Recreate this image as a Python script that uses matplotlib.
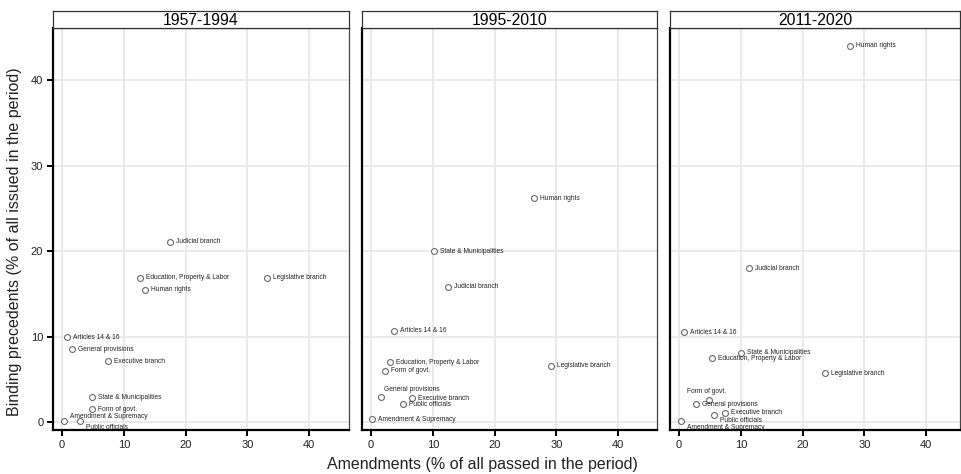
#!/usr/bin/env python3
# plot.py

import matplotlib
matplotlib.use('Agg')
import matplotlib.pyplot as plt
import numpy as np

# Subject areas of the constitution
categories = ['Amendment & Supremacy', 'Articles 14 & 16', 'Education, Property & Labor',
              'Executive branch', 'Form of govt.', 'General provisions', 'Human rights',
              'Judicial branch', 'Legislative branch', 'Public officials', 'State & Municipalities']
periods = ['1957-1994', '1995-2010', '2011-2020']

# Amendments (% of all passed in the period), one list per period
amend_1957 = [0.4, 0.8, 12.7, 7.4, 4.9, 1.6, 13.5, 17.5, 33.1, 2.9, 4.9]
amend_1995 = [0.1, 3.7, 3.1, 6.7, 2.3, 1.6, 26.3, 12.5, 29.2, 5.2, 10.25]
amend_2011 = [0.4, 0.8, 5.3, 7.4, 4.9, 2.8, 27.7, 11.4, 23.6, 5.7, 10.1]

# Binding precedents (% of all issued in the period)
prec_1957 = [0.1, 9.9, 16.9, 7.1, 1.5, 8.5, 15.5, 21.1, 16.9, 0.1, 2.9]
prec_1995 = [0.3, 10.7, 7.0, 2.8, 6.0, 2.9, 26.2, 15.8, 6.6, 2.1, 20.0]
prec_2011 = [0.1, 10.5, 7.45, 1.1, 2.6, 2.1, 44.0, 18.0, 5.7, 0.85, 8.1]

amend = [amend_1957, amend_1995, amend_2011]
prec = [prec_1957, prec_1995, prec_2011]

# label offsets in points (default: right of the marker)
label_pos = {
    (0, 'Amendment & Supremacy'): (3.8, 3.1, 'left'),
    (0, 'Public officials'): (4.3, -4.8, 'left'),
    (1, 'General provisions'): (2.2, 5.5, 'left'),
    (2, 'Form of govt.'): (-2.2, 5.8, 'center'),
    (2, 'Public officials'): (4.3, -4.5, 'left'),
    (2, 'Amendment & Supremacy'): (3.9, -4.6, 'left'),
}

W, H = 961, 474
fig = plt.figure(figsize=(W / 100, H / 100), dpi=100)

narrow = ['Liberation Sans Narrow', 'Liberation Sans', 'DejaVu Sans']
regular = ['Liberation Sans', 'DejaVu Sans']

px_per_unit = 6.18
lefts = [53, 362, 670]
rights = [349, 657, 960]
ax_top, ax_bot, strip_top = 28, 430, 11

for i, period in enumerate(periods):
    l, r = lefts[i], rights[i]
    ax = fig.add_axes([l / W, 1 - ax_bot / H, (r - l) / W, (ax_bot - ax_top) / H])
    xmin = -9 / px_per_unit
    ax.set_xlim(xmin, xmin + (r - l) / px_per_unit)
    ax.set_ylim(-0.94, 46.1)
    ax.set_xticks(np.arange(0, 50, 10))
    ax.set_yticks(np.arange(0, 50, 10))
    ax.grid(True, color='#e9e9e9', linewidth=1.4)
    ax.set_axisbelow(True)

    ax.scatter(amend[i], prec[i], s=18, facecolors='white', edgecolors='#6a6a6a',
               linewidths=0.8, zorder=3)
    for cat, x, y in zip(categories, amend[i], prec[i]):
        dx, dy, ha = label_pos.get((i, cat), (4.3, 0, 'left'))
        ax.annotate(cat, (x, y), xytext=(dx, dy), textcoords='offset points',
                    ha=ha, va='center', fontsize=4.8, family=regular,
                    color='#222222', zorder=4)

    for side in ['top', 'right']:
        ax.spines[side].set_color('#444444')
        ax.spines[side].set_linewidth(0.9)
    for side in ['left', 'bottom']:
        ax.spines[side].set_color('black')
        ax.spines[side].set_linewidth(1.6)
    ax.tick_params(axis='both', direction='out', length=4, width=1.4, color='black',
                   labelsize=8, pad=3, labelcolor='#222222')
    for lab in ax.get_xticklabels() + ax.get_yticklabels():
        lab.set_family(narrow)
    if i > 0:
        ax.tick_params(axis='y', left=False, labelleft=False)

    # period strip above each panel
    strip = fig.add_axes([l / W, 1 - ax_top / H, (r - l) / W, (ax_top - strip_top) / H])
    strip.set_xticks([])
    strip.set_yticks([])
    for side in strip.spines:
        strip.spines[side].set_color('#333333')
        strip.spines[side].set_linewidth(0.9)
    strip.text(0.5, 0.45, period, ha='center', va='center', fontsize=11.3,
               family=regular, transform=strip.transAxes)

fig.text(482 / W, 1 - 465 / H, 'Amendments (% of all passed in the period)',
         ha='center', va='center', fontsize=11.5, family=narrow, color='#222222')
fig.text(15 / W, 1 - 242 / H, 'Binding precedents (% of all issued in the period)',
         ha='center', va='center', rotation=90, fontsize=11.5, family=narrow,
         color='#222222')

fig.savefig('out.png', dpi=100)
